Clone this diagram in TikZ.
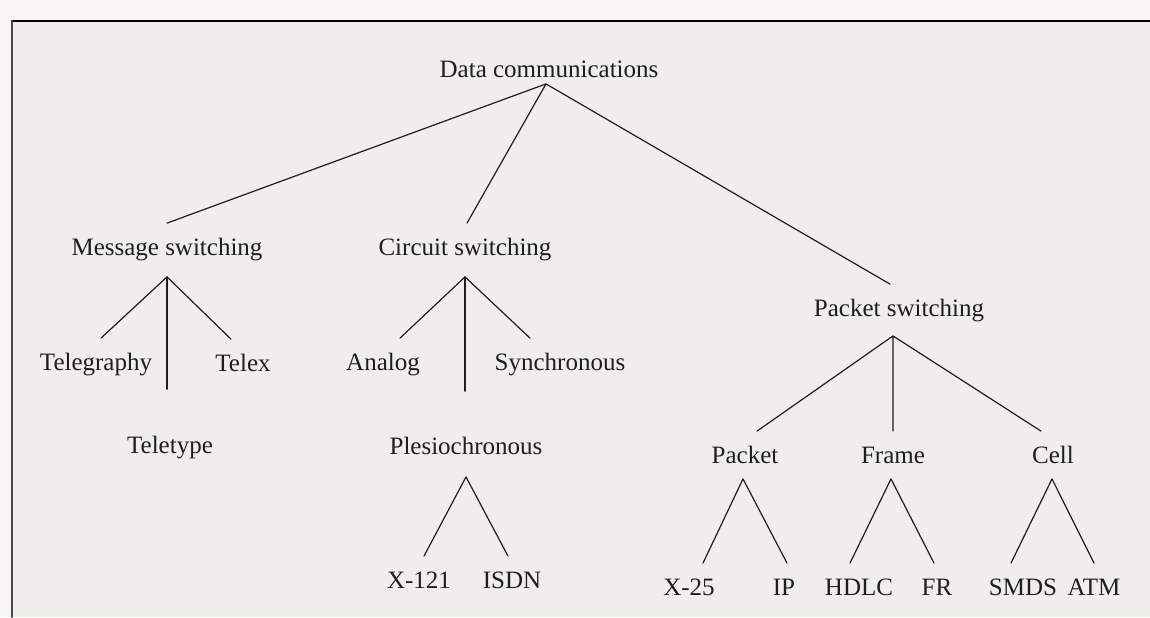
\documentclass[tikz,border=0pt]{standalone}
\usepackage{fontspec}
\setmainfont{Liberation Serif}
\definecolor{PageWhite}{HTML}{F7F6F3}
\definecolor{ScanGrey}{HTML}{EFEEEB}
\definecolor{InkBlack}{HTML}{1E1E1E}
\definecolor{RuleGrey}{HTML}{4A4A4A}

\begin{document}
\begin{tikzpicture}[x=.5pt,y=-.5pt,line cap=round,
  lbl/.style={font=\fontsize{12.5}{15}\selectfont,text=InkBlack,inner xsep=0pt,inner ysep=7.5pt,text height=8.5pt,text depth=0pt},
  link/.style={InkBlack,line width=.6pt}]
  \useasboundingbox (0,0) rectangle (1150,617);
  \fill[PageWhite] (0,0) rectangle (1150,617); \fill[ScanGrey] (12,21) rectangle (1150,617);
  \draw[black,line width=1.1pt] (12,21)--(1150,21); \draw[RuleGrey,line width=1pt] (12,21)--(12,617);
  % levels of the tree
  \node[lbl] (dc) at (549,69) {Data communications};
  \node[lbl] (msg) at (167,247) {Message switching}; \node[lbl] (cir) at (465,247) {Circuit switching}; \node[lbl] (pks) at (899,308) {Packet switching};
  \node[lbl] (tgr) at (96,362) {Telegraphy}; \node[lbl] (tlx) at (243,363) {Telex}; \node[lbl] (tty) at (170,445) {Teletype};
  \node[lbl] (ana) at (383,362) {Analog}; \node[lbl] (syn) at (560,362) {Synchronous}; \node[lbl] (ple) at (466,446) {Plesiochronous};
  \node[lbl] (x121) at (419,580) {X-121}; \node[lbl] (isdn) at (512,580) {ISDN};
  \node[lbl] (pak) at (745,455) {Packet}; \node[lbl] (frm) at (893,455) {Frame}; \node[lbl] (cel) at (1053,455) {Cell};
  \node[lbl] (x25) at (689,587) {X-25}; \node[lbl] (ip) at (784,587) {IP}; \node[lbl] (hdlc) at (859,587) {HDLC};
  \node[lbl] (fr) at (937,587) {FR}; \node[lbl] (smds) at (1023,587) {SMDS}; \node[lbl] (atm) at (1094,587) {ATM};
  % branch points
  \coordinate (dc-a) at ([xshift=-1.5pt,yshift=4.5pt]dc.south); \coordinate (msg-a) at ([yshift=-3pt]msg.south);
  \coordinate (cir-a) at ([yshift=-3pt]cir.south); \coordinate (pks-a) at ([xshift=-3pt,yshift=-2pt]pks.south);
  \coordinate (ple-a) at ([yshift=-3.5pt]ple.south); \coordinate (pak-a) at ([xshift=-1pt]pak.south);
  \coordinate (frm-a) at ([xshift=-1pt]frm.south); \coordinate (cel-a) at ([xshift=-.5pt]cel.south);
  \draw[link] (dc-a)--(msg.north) (dc-a)--([xshift=1pt]cir.north) (dc-a)--([xshift=-4.5pt]pks.north);
  \draw[link] (msg-a)--([xshift=2.5pt]tgr.north) (msg-a)--([xshift=-6pt]tlx.north); \draw[link,shorten >=16pt] (msg-a)--(msg-a |- tty.north);
  \draw[link] (cir-a)--([xshift=8.5pt]ana.north) (cir-a)--([xshift=-15pt]syn.north); \draw[link,shorten >=15.5pt] (cir-a)--(cir-a |- ple.north);
  \draw[link] (ple-a)--([xshift=2.5pt]x121.north) (ple-a)--([xshift=-2pt]isdn.north);
  \draw[link] (pks-a)--([xshift=6pt]pak.north) (pks-a)--(pks-a |- frm.north) (pks-a)--([xshift=-6pt]cel.north);
  \draw[link] (pak-a)--([xshift=7pt]x25.north) (pak-a)--([xshift=1.5pt]ip.north);
  \draw[link] (frm-a)--([xshift=-4.5pt]hdlc.north) (frm-a)--([xshift=-1.5pt]fr.north);
  \draw[link] (cel-a)--([xshift=-6pt]smds.north) (cel-a)--(atm.north);
\end{tikzpicture}
\end{document}
